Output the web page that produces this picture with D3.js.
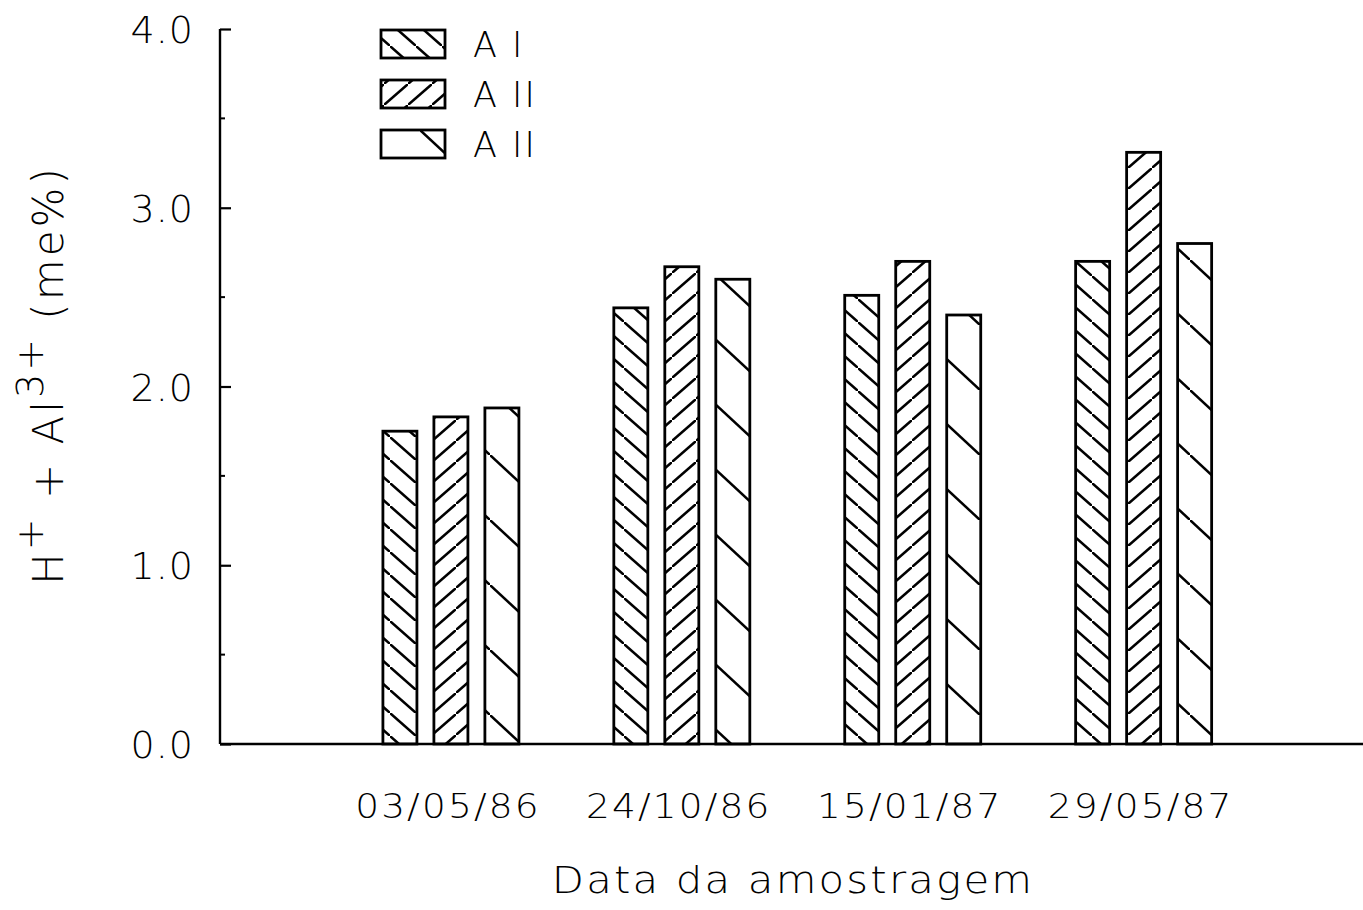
<!DOCTYPE html>
<html>
<head>
<meta charset="utf-8">
<script src="https://cdn.jsdelivr.net/npm/d3@7/dist/d3.min.js"></script>
<style>
  html, body { margin: 0; padding: 0; background: #fff; }
  svg { display: block; }
  text { font-family: "DejaVu Sans", sans-serif; font-weight: 200; fill: #000; }
</style>
</head>
<body>
<svg id="chart" width="1363" height="910"></svg>
<script>
// Sampling dates and treatments
const dates = ["03/05/86", "24/10/86", "15/01/87", "29/05/87"];
const treatments = ["A I", "A II", "A II "];
const legendLabels = ["A I", "A II", "A II"];

// H+ + Al3+ (me%) per treatment, one value per date
const seriesAI   = [1.75, 2.44, 2.51, 2.70];
const seriesAII  = [1.83, 2.67, 2.70, 3.31];
const seriesAIII = [1.88, 2.60, 2.40, 2.80];
const series = [seriesAI, seriesAII, seriesAIII];

const yTicks = [0, 1, 2, 3, 4];
const yMinor = [0.5, 1.5, 2.5, 3.5];

const svg = d3.select("#chart");

const x = d3.scaleLinear().domain([0, 4.95]).range([220, 1363]);
const inner = d3.scaleBand().domain(treatments).range([-68, 68]).paddingInner(0.333).paddingOuter(0);
const y = d3.scaleLinear().domain([0, 4]).range([744, 29]);

// Hatch patterns: "\" dense, "/" dense, "\" sparse
const defs = svg.append("defs");
function hatch(id, w, h, dir) {
  const p = defs.append("pattern")
    .attr("id", id).attr("patternUnits", "userSpaceOnUse")
    .attr("width", w).attr("height", h);
  const m = h / w;
  if (dir === "back") {
    p.append("line").attr("x1", -2).attr("y1", -2 * m).attr("x2", w + 2).attr("y2", h + 2 * m);
  } else {
    p.append("line").attr("x1", -2).attr("y1", h + 2 * m).attr("x2", w + 2).attr("y2", -2 * m);
  }
  p.selectAll("line").attr("stroke", "#000").attr("stroke-width", 2.5);
}
hatch("hatch0", 26, 23, "back");
hatch("hatch1", 24, 21, "fwd");
hatch("hatch2", 70, 65, "back");

const fills = ["url(#hatch0)", "url(#hatch1)", "url(#hatch2)"];

// Bars
dates.forEach((d, i) => {
  series.forEach((s, k) => {
    const x0 = x(i + 1) + inner(treatments[k]);
    svg.append("rect")
      .attr("x", x0).attr("y", y(s[i]))
      .attr("width", inner.bandwidth()).attr("height", y(0) - y(s[i]))
      .attr("fill", fills[k]).attr("stroke", "#000").attr("stroke-width", 2.8);
  });
});

// Y axis with inward ticks
const yAxis = d3.axisLeft(y).tickValues(yTicks).tickSize(-11).tickPadding(26)
  .tickFormat(d3.format(".1f"));
const gy = svg.append("g").attr("transform", "translate(220,0)").call(yAxis);
gy.select(".domain").attr("stroke-width", 2.4).attr("d", `M-0,${y(4)}V${y(0)}`);
gy.selectAll(".tick line").attr("stroke-width", 2.2);
gy.selectAll(".tick text").style("font-size", "38px").attr("dy", "0.36em")
  .style("font-family", "'DejaVu Sans', sans-serif").style("font-weight", 200)
  .style("letter-spacing", "1px");
gy.attr("font-family", null).attr("font-size", null);
gy.selectAll(".minor").data(yMinor).enter().append("line")
  .attr("x1", 0).attr("x2", 5).attr("y1", d => y(d)).attr("y2", d => y(d))
  .attr("stroke", "#000").attr("stroke-width", 2);

// X axis baseline and date labels (slightly widened lettering)
svg.append("line").attr("x1", x(0)).attr("x2", x(4.95)).attr("y1", y(0)).attr("y2", y(0))
  .attr("stroke", "#000").attr("stroke-width", 2.6);
svg.selectAll(".xlab").data(dates).enter().append("text")
  .attr("transform", (d, i) => `translate(${x(i + 1) - 3},818) scale(1.1,1)`)
  .attr("text-anchor", "middle").style("font-size", "34px").style("letter-spacing", "2px")
  .text(d => d);

// Axis titles
svg.append("text").attr("transform", "translate(793,893) scale(1.1,1)")
  .attr("text-anchor", "middle")
  .style("font-size", "38px").style("letter-spacing", "2px").text("Data da amostragem");

const yl = svg.append("text").attr("transform", "translate(63,375) rotate(-90)")
  .attr("text-anchor", "middle").style("font-size", "42px").style("letter-spacing", "3px");
yl.append("tspan").text("H");
yl.append("tspan").attr("dy", -20).style("font-size", "38px").text("+");
yl.append("tspan").attr("dy", 20).text(" + Al");
yl.append("tspan").attr("dy", -20).style("font-size", "38px").text("3+");
yl.append("tspan").attr("dy", 20).text(" (me%)");

// Legend
const lg = svg.append("g");
legendLabels.forEach((lab, k) => {
  const top = 30 + k * 50;
  lg.append("rect").attr("x", 381).attr("y", top).attr("width", 64).attr("height", 28)
    .attr("fill", fills[k]).attr("stroke", "#000").attr("stroke-width", 2.8);
  lg.append("text").attr("x", 473).attr("y", top + 27).style("font-size", "35px")
    .style("letter-spacing", "2px").text(lab);
});
</script>
</body>
</html>
